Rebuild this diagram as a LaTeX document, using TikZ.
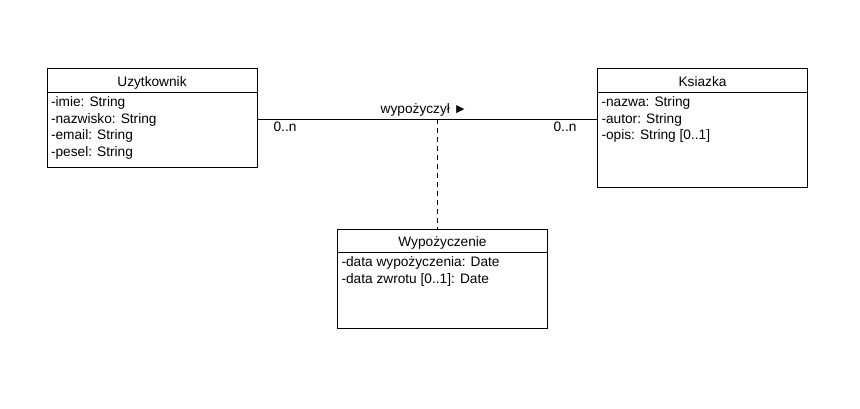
\documentclass[tikz,border=0pt]{standalone}
\usepackage{fontspec}
\setmainfont{Liberation Sans}
\usepackage{tikz}

\begin{document}
\begin{tikzpicture}[x=1pt, y=-1pt, line width=1pt,
    every node/.style={font=\fontsize{13.7}{16.6}\selectfont},
    classbox/.style={draw=black, rectangle, minimum width=210pt, inner sep=0pt},
    classname/.style={anchor=base},
    attrs/.style={anchor=north west, align=left, inner sep=0pt}]
    \useasboundingbox (0,0) rectangle (860,409);

    \node (user) [classbox, minimum height=99pt] at (152,118.5) {};
    \node (book) [classbox, minimum height=119pt] at (702.5,128.5) {};
    \node (loan) [classbox, minimum height=99pt] at (442.5,278.5) {};

    \draw ([yshift=-24pt]user.north west) -- ([yshift=-24pt]user.north east);
    \draw ([yshift=-24pt]book.north west) -- ([yshift=-24pt]book.north east);
    \draw ([yshift=-24pt]loan.north west) -- ([yshift=-24pt]loan.north east);

    \node (usertitle) [classname] at ([yshift=-18.3pt]user.north) {Uzytkownik};
    \node (booktitle) [classname] at ([yshift=-18.3pt]book.north) {Ksiazka};
    \node (loantitle) [classname] at ([yshift=-18.3pt]loan.north) {Wypożyczenie};

    \node (userattrs) [attrs] at ([xshift=4pt, yshift=-27.8pt]user.north west)
        {-imie: String\\-nazwisko: String\\-email: String\\-pesel: String};
    \node (bookattrs) [attrs] at ([xshift=4pt, yshift=-27.8pt]book.north west)
        {-nazwa: String\\-autor: String\\-opis: String [0..1]};
    \node (loanattrs) [attrs] at ([xshift=4pt, yshift=-27.8pt]loan.north west)
        {-data wypożyczenia: Date\\-data zwrotu [0..1]: Date};

    \coordinate (assoc) at (437,119.5);
    \draw (user.east |- assoc) -- (book.west |- assoc);
    \draw[dash pattern=on 5pt off 4pt] (assoc) -- (loan.north -| assoc);

    \node (assoclabel) [anchor=base] at (424,114) {wypożyczył ►};
    \node (usermult) [anchor=base] at (285,131.7) {0..n};
    \node (bookmult) [anchor=base] at (565,131.7) {0..n};
\end{tikzpicture}
\end{document}
